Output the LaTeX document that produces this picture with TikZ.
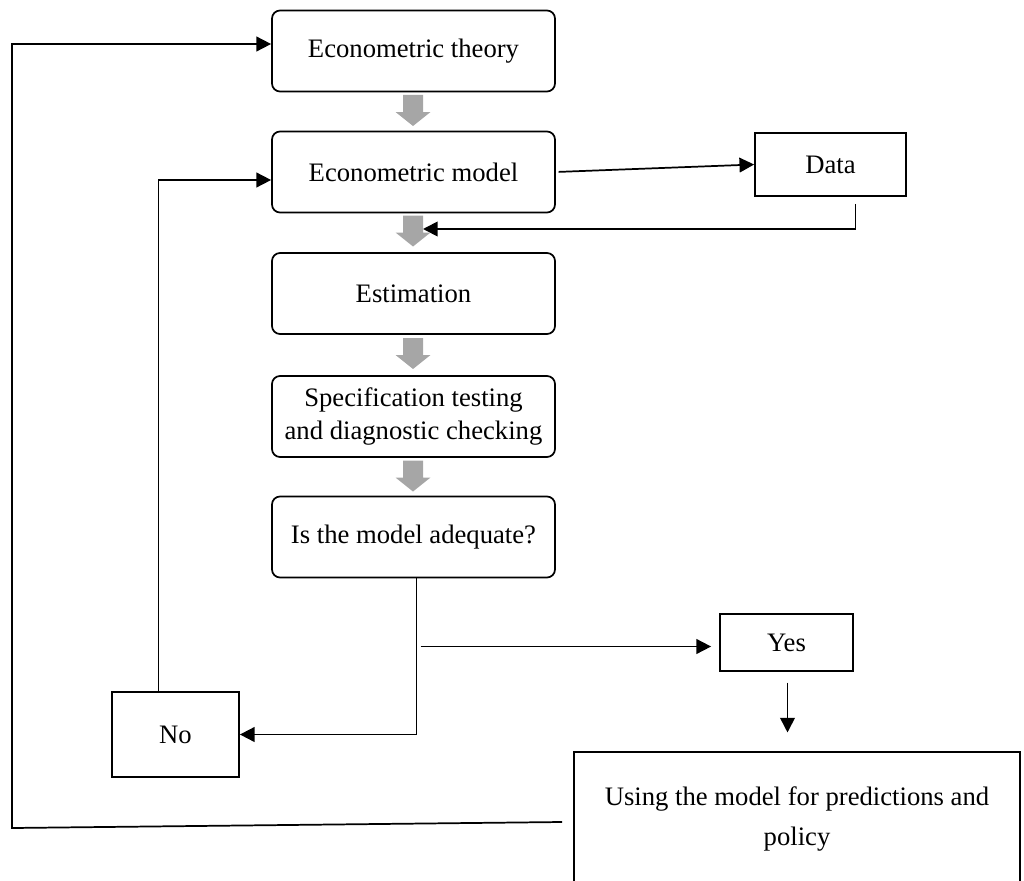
\documentclass[tikz,border=0pt]{standalone}
\usepackage{fontspec}
\setmainfont{Liberation Serif}
\usepackage{tikz}
\usetikzlibrary{calc}
\usetikzlibrary{arrows.meta}
\tikzset{every picture/.style={line width=1.3pt}}
\definecolor{stepgray}{RGB}{166,166,166}
\tikzset{
  roundbox/.style={draw, rounded corners=6pt, minimum width=212.25pt, minimum height=60.75pt, align=center, inner sep=0.75pt, font=\fontsize{20}{25}\selectfont},
  plainbox/.style={draw, align=center, inner sep=0.75pt, font=\fontsize{20}{25}\selectfont},
  flow/.style={-{Triangle[length=11pt,width=11pt]}},
  pics/stepdown/.style={code={
    \fill [stepgray] (-10,15.5) -- (10,15.5) -- (10,-1.5) -- (17.5,-1.5) -- (0,-15.5) -- (-17.5,-1.5) -- (-10,-1.5) -- cycle ;
  }}
}

\begin{document}
\begin{tikzpicture}[x=0.75pt,y=0.75pt,yscale=-1,xscale=1]
\useasboundingbox (0,0) rectangle (1024,881);
\clip (0,0) rectangle (1024,881);

%Shape: Rounded Rect [id:theory]
\node [roundbox] (theory) at (413.5,51) {Econometric theory};
%Shape: Rounded Rect [id:model]
\node [roundbox] (model) at (413.5,172) {Econometric model};
%Shape: Rounded Rect [id:estimation]
\node [roundbox] (estimation) at (413.5,293.5) {Estimation};
%Shape: Rounded Rect [id:spec]
\node [roundbox] (spec) at (413.5,416.5) {Specification testing\\and diagnostic checking};
%Shape: Rounded Rect [id:adequate]
\node [roundbox] (adequate) at (413.5,537) {Is the model adequate?};

%Shape: Rectangle [id:data]
\node [plainbox, minimum width=113.25pt, minimum height=47.25pt] (data) at (830.5,164.5) {Data};
%Shape: Rectangle [id:yes]
\node [plainbox, minimum width=99.75pt, minimum height=42.75pt] (yes) at (786.5,642.5) {Yes};
%Shape: Rectangle [id:no]
\node [plainbox, minimum width=95.25pt, minimum height=63.75pt] (no) at (175.5,734.5) {No};
%Shape: Rectangle [id:final]
\node [plainbox, minimum width=334.5pt, minimum height=100.5pt] (final) at (797,819) {Using the model for predictions and\\[5pt]policy};

%Block Arrows
\pic at (413,110.5) {stepdown};
\pic at (413,231) {stepdown};
\pic at (413,353.5) {stepdown};
\pic at (413,476) {stepdown};
\coordinate (ga2) at (423,229) ;

%Straight Lines [id:model-data]
\draw [flow, shorten <=2pt] (model.east) -- (data.west) ;
%Straight Lines [id:data-back]
\draw [flow] ($(data.south)+(25,7)$) |- (ga2) ;
%Straight Lines [id:adequate-no]
\draw [flow] ($(adequate.south)+(3,0)$) |- (no.east) ;
%Straight Lines [id:adequate-yes]
\coordinate (split) at ($(adequate.south |- yes.west)+(7,4)$) ;
\draw [flow, shorten >=6pt] (split) -- (split -| yes.west) ;
%Straight Lines [id:yes-final]
\draw [flow, shorten <=8pt, shorten >=14pt] ($(yes.south)+(1,0)$) -- ($(yes.south |- final.north)+(1,0)$) ;
%Straight Lines [id:no-model]
\draw [flow] ($(no.north)+(-17,0)$) |- ($(model.west)+(0,8)$) ;
%Straight Lines [id:final-theory]
\coordinate (loopstart) at ($(final.west)+(-11,3)$) ;
\coordinate (loopcorner) at (12,828) ;
\draw [flow] (loopstart) -- (loopcorner) |- ($(theory.west)+(0,-7)$) ;

\end{tikzpicture}
\end{document}
